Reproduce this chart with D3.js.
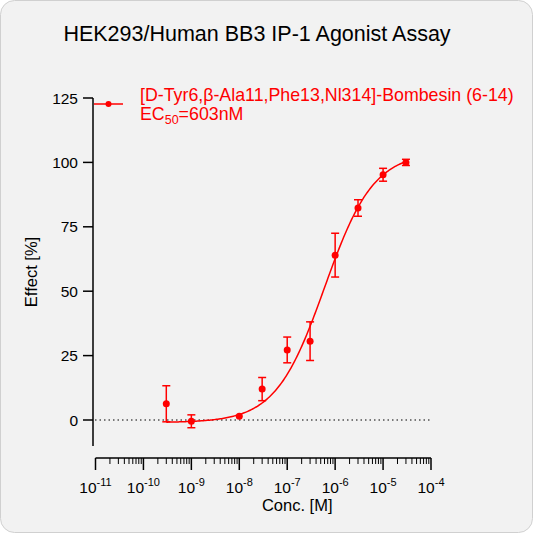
<!DOCTYPE html>
<html><head><meta charset="utf-8">
<script src="https://cdn.jsdelivr.net/npm/d3@7"></script>
<style>body{margin:0;background:#fff}text{font-family:Arial,"Liberation Sans",sans-serif}</style>
</head><body>
<svg id="chart" width="533" height="533"></svg>
<script>
// data
let conc = [3e-10, 1e-9, 1e-8, 3e-8, 1e-7, 3e-7, 1e-6, 3e-6, 1e-5, 3e-5];
let effect = [6.3, -0.5, 1.5, 12, 27.2, 30.6, 64, 82.3, 95.2, 100];
let errs = [7, 2.5, 0, 4.5, 5, 7.5, 8.5, 3.2, 2.5, 1.2];
let fit = { bottom: -1, top: 104, ec50: 6.03e-7, hill: 0.85 };
let yTicks = [0, 25, 50, 75, 100, 125];
let xDecades = [-11, -10, -9, -8, -7, -6, -5, -4];

let svg = d3.select('#chart');
let red = '#ff0000';
svg.append('rect').attr('x', 0.5).attr('y', 0.5).attr('width', 532).attr('height', 532)
    .attr('rx', 14).attr('fill', '#f2f2f2').attr('stroke', '#d0d0d0');

let x = d3.scaleLog().domain([1e-11, 1e-4]).range([95.5, 431]);
let y = d3.scaleLinear().domain([0, 125]).range([420, 98]);

svg.append('text').attr('x', 257).attr('y', 41).attr('text-anchor', 'middle')
    .attr('font-size', 21.5).text('HEK293/Human BB3 IP-1 Agonist Assay');

// y axis
let gy = svg.append('g').attr('transform', 'translate(93,0)');
gy.append('line').attr('y1', 98).attr('y2', 446).attr('stroke', '#000').attr('stroke-width', 1.5);
yTicks.forEach(t => {
    gy.append('line').attr('x1', -10).attr('x2', 0).attr('y1', y(t)).attr('y2', y(t)).attr('stroke', '#000').attr('stroke-width', 1.5);
    gy.append('text').attr('x', -15).attr('y', y(t) + 5.5).attr('text-anchor', 'end').attr('font-size', 15.5).text(t);
});
svg.append('text').attr('transform', 'translate(37,272) rotate(-90)').attr('text-anchor', 'middle')
    .attr('font-size', 16.5).text('Effect  [%]');

// x axis
let gx = svg.append('g').attr('transform', 'translate(0,458)');
gx.append('line').attr('x1', x(1e-11)).attr('x2', x(1e-4)).attr('stroke', '#000').attr('stroke-width', 1.5);
xDecades.forEach(d => {
    let v = Math.pow(10, d);
    gx.append('line').attr('x1', x(v)).attr('x2', x(v)).attr('y2', 12).attr('stroke', '#000').attr('stroke-width', 1.5);
    let t = gx.append('text').attr('x', x(v)).attr('y', 35).attr('text-anchor', 'middle').attr('font-size', 15.5);
    t.append('tspan').text('10');
    t.append('tspan').attr('dy', -7).attr('font-size', 11).text(d);
    if (d < -4) for (let k = 2; k < 10; k++) {
        let m = k * v;
        gx.append('line').attr('x1', x(m)).attr('x2', x(m)).attr('y2', 6).attr('stroke', '#000').attr('stroke-width', 1);
    }
});
svg.append('text').attr('x', x(1e-7) + 10).attr('y', 511).attr('text-anchor', 'middle').attr('font-size', 16.5).text('Conc. [M]');

// zero dotted line
svg.append('line').attr('x1', 95).attr('x2', 431).attr('y1', y(0)).attr('y2', y(0))
    .attr('stroke', '#000').attr('stroke-dasharray', '1.5 3');

// fitted curve
let f = c => fit.bottom + (fit.top - fit.bottom) / (1 + Math.pow(fit.ec50 / c, fit.hill));
let pts = d3.range(0, 201).map(i => {
    let lc = Math.log10(conc[0]) + i / 200 * (Math.log10(conc[conc.length - 1]) - Math.log10(conc[0]));
    return Math.pow(10, lc);
});
svg.append('path').datum(pts).attr('fill', 'none').attr('stroke', red).attr('stroke-width', 1.5)
    .attr('d', d3.line().x(c => x(c)).y(c => y(f(c))));

// points + errors
let g = svg.append('g');
conc.forEach((c, i) => {
    let cx = x(c), e = errs[i];
    if (e > 0) {
        g.append('line').attr('x1', cx).attr('x2', cx).attr('y1', y(effect[i] - e)).attr('y2', y(effect[i] + e)).attr('stroke', red).attr('stroke-width', 1.5);
        [effect[i] - e, effect[i] + e].forEach(v => g.append('line').attr('x1', cx - 4).attr('x2', cx + 4).attr('y1', y(v)).attr('y2', y(v)).attr('stroke', red).attr('stroke-width', 1.5));
    }
    g.append('circle').attr('cx', cx).attr('cy', y(effect[i])).attr('r', 3.5).attr('fill', red);
});

// legend
svg.append('line').attr('x1', 94).attr('x2', 123).attr('y1', 104).attr('y2', 104).attr('stroke', red).attr('stroke-width', 1.5);
svg.append('circle').attr('cx', 108.5).attr('cy', 104).attr('r', 3).attr('fill', red);
svg.append('text').attr('x', 140).attr('y', 101).attr('fill', red).attr('font-size', 17.8)
    .text('[D-Tyr6,β-Ala11,Phe13,Nl314]-Bombesin (6-14)');
let lt = svg.append('text').attr('x', 140).attr('y', 120).attr('fill', red).attr('font-size', 17.8);
lt.append('tspan').text('EC');
lt.append('tspan').attr('dy', 4).attr('font-size', 12.5).text('50');
lt.append('tspan').attr('dy', -4).text('=603nM');
</script>
</body></html>
